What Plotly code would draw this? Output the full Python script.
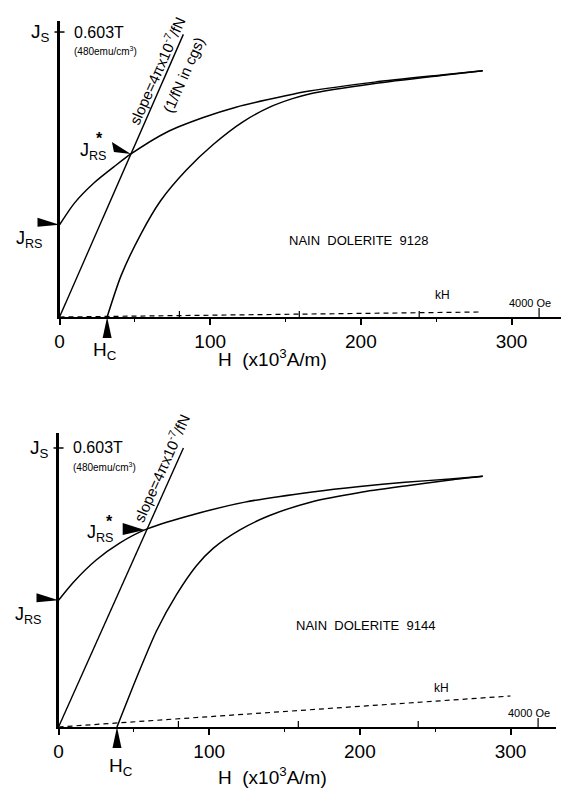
import math
import plotly.graph_objects as go

# ---------------- data (H in 10^3 A/m, J in T) ----------------
JS = 0.603
# top panel: NAIN DOLERITE 9128
top_up_H = [0, 9.9, 23.0, 36.2, 47.4, 71.1, 95.4, 117.1, 150, 165.8, 209.2, 253.3, 280.9]
top_up_J = [0.195, 0.241, 0.284, 0.318, 0.345, 0.391, 0.422, 0.444, 0.468, 0.478, 0.497, 0.512, 0.521]
top_lo_H = [31.6, 40.8, 53.9, 67.1, 84.2, 102, 121.7, 139.5, 154.6, 165.8, 209.2, 253.3, 280.9]
top_lo_J = [0, 0.087, 0.175, 0.246, 0.311, 0.365, 0.413, 0.444, 0.462, 0.472, 0.494, 0.511, 0.521]
top_slope_H = [0, 82.2]
top_slope_J = [0, 0.598]
top_kH_H = [0, 280]
top_kH_J = [0, 0.0106]
top_JRS = 0.195
top_star = (47.4, 0.345)
top_Hc = 31.6

# bottom panel: NAIN DOLERITE 9144
bot_up_H = [0, 9.9, 25, 40.8, 57.2, 84.9, 123.7, 168.4, 200, 230, 260, 281.6]
bot_up_J = [0.274, 0.313, 0.361, 0.398, 0.426, 0.455, 0.486, 0.508, 0.520, 0.529, 0.536, 0.542]
bot_lo_H = [38.8, 52, 65.1, 78.3, 91.4, 102.6, 120.4, 140.1, 168.4, 200, 230, 260, 281.6]
bot_lo_J = [0, 0.108, 0.208, 0.286, 0.348, 0.386, 0.426, 0.457, 0.487, 0.507, 0.521, 0.534, 0.542]
bot_slope_H = [0, 82.9]
bot_slope_J = [0, 0.603]
bot_kH_H = [0, 300]
bot_kH_J = [0, 0.067]
bot_JRS = 0.274
bot_star = (57.2, 0.426)
bot_Hc = 38.8

x_ticks = [0, 100, 200, 300]
oe_marks = [1000, 2000, 3000, 4000]          # Oe
oe_H = [o * 1e3 / (4 * math.pi) / 1e3 for o in oe_marks]  # -> 10^3 A/m

FONT = "Liberation Sans, Arial, Helvetica, sans-serif"
W, H = 568, 794

fig = go.Figure()

def add_panel(xa, ya, up_H, up_J, lo_H, lo_J, sl_H, sl_J, kh_H, kh_J):
    kw = dict(xaxis=xa, yaxis=ya, mode="lines", showlegend=False, hoverinfo="skip")
    fig.add_trace(go.Scatter(x=up_H, y=up_J, line=dict(color="black", width=1.5, shape="spline", smoothing=0.7), **kw))
    fig.add_trace(go.Scatter(x=lo_H, y=lo_J, line=dict(color="black", width=1.5, shape="spline", smoothing=0.7), **kw))
    fig.add_trace(go.Scatter(x=sl_H, y=sl_J, line=dict(color="black", width=1.4), **kw))
    fig.add_trace(go.Scatter(x=kh_H, y=kh_J, line=dict(color="black", width=1.2, dash="5px,4px"), **kw))

add_panel("x", "y", top_up_H, top_up_J, top_lo_H, top_lo_J, top_slope_H, top_slope_J, top_kH_H, top_kH_J)
add_panel("x2", "y2", bot_up_H, bot_up_J, bot_lo_H, bot_lo_J, bot_slope_H, bot_slope_J, bot_kH_H, bot_kH_J)

def xaxis(dom, rng):
    return dict(domain=dom, range=rng, showline=True, linewidth=2, linecolor="black",
                ticks="outside", ticklen=6, tickwidth=1.5, tickcolor="black",
                tickvals=x_ticks, ticktext=[str(v) for v in x_ticks],
                minor=dict(dtick=50, ticks="outside", ticklen=3, tickwidth=1, tickcolor="black"),
                tickfont=dict(family=FONT, size=19, color="black"),
                showgrid=False, zeroline=False, fixedrange=True)

def yaxis(dom, rng, anchor):
    return dict(domain=dom, range=rng, showline=True, linewidth=2.5, linecolor="black",
                showticklabels=False, ticks="", showgrid=False, zeroline=False, anchor=anchor)

fig.update_layout(
    width=W, height=H, margin=dict(l=0, r=0, t=0, b=0),
    paper_bgcolor="white", plot_bgcolor="white",
    xaxis=dict(**xaxis([55 / W, 561 / W], [0, (561 - 55) / 1.52]), anchor="y"),
    yaxis=yaxis([(H - 317) / H, (H - 21) / H], [0, (317 - 21) / 472.6], "x"),
    xaxis2=dict(**xaxis([54 / W, 556 / W], [0, (556 - 54) / 1.52]), anchor="y2"),
    yaxis2=yaxis([(H - 727) / H, (H - 433) / H], [0, (727 - 433) / 462.7], "x2"),
    font=dict(family=FONT, color="black"),
)

shapes = []
ann = []

def tri(xr, yr, xa, ya, path):
    shapes.append(dict(type="path", xref=xr, yref=yr, xsizemode="pixel", ysizemode="pixel",
                       xanchor=xa, yanchor=ya, path=path, fillcolor="black", line=dict(width=0),
                       layer="above"))

def txt(xr, yr, x, y, text, size, xs=0, ys=0, xanchor="center", angle=0):
    ann.append(dict(xref=xr, yref=yr, x=x, y=y, text=text, showarrow=False, xshift=xs, yshift=ys,
                    xanchor=xanchor, yanchor="middle", textangle=angle,
                    font=dict(family=FONT, size=size, color="black")))

def decorate(xr, yr, JRS, star, Hc, name, kh_xy, oe_xy, star_path, star_lab, hc_shift, slope_txt, cgs_txt):
    xd = xr + " domain"
    yd = yr + " domain"
    # Js tick crossing the axis (x domain 0 is H = 0)
    shapes.append(dict(type="line", xref=xd, yref=yr, xsizemode="pixel", xanchor=0,
                       x0=-5, x1=5, y0=JS, y1=JS, line=dict(color="black", width=1.5)))
    # Oe marks above the H axis
    for h, o in zip(oe_H, oe_marks):
        shapes.append(dict(type="line", xref=xr, yref=yd, ysizemode="pixel", yanchor=0,
                           x0=h, x1=h, y0=0, y1=9 if o == 4000 else 6,
                           line=dict(color="black", width=1.2)))
    # arrows (wedges)
    tri(xd, yr, 0, JRS, "M0,0 L-22,7 L-22,-2 Z")
    tri(xr, yr, star[0], star[1], star_path)
    tri(xr, yd, Hc, 0, "M0,0 L-4.5,-21 L4.5,-21 Z")
    # labels
    txt(xr, yr, 0, JS, "J<sub>S</sub>", 19, xs=-8, ys=-1, xanchor="right")
    txt(xr, yr, 0, JS, "0.603T", 16, xs=12, ys=0, xanchor="left")
    txt(xr, yr, 0, JS, "(480emu/cm<sup>3</sup>)", 10, xs=12, ys=-19, xanchor="left")
    txt(xr, yr, 0, JRS, "J<sub>RS</sub>", 18, xs=-15, ys=-15, xanchor="right")
    txt(xr, yr, star[0], star[1], "J<sub>RS</sub>", 18, xs=star_lab[0], ys=star_lab[1], xanchor="right")
    txt(xr, yr, star[0], star[1], "<b>*</b>", 16, xs=star_lab[2], ys=star_lab[3])
    txt(xr, yr, Hc, 0, "H<sub>C</sub>", 19, xs=hc_shift[0], ys=hc_shift[1])
    txt("paper", "paper", name[0], name[1], name[2], 13, xanchor="left")
    txt(xr, yr, kh_xy[0], kh_xy[1], "kH", 12)
    txt(xr, yr, oe_xy[0], oe_xy[1], "4000 Oe", 11)
    txt(xr, yr, slope_txt[0], slope_txt[1], "slope=4πx10<sup>-7</sup>/fN", 15, angle=-66)
    if cgs_txt:
        txt(xr, yr, cgs_txt[0], cgs_txt[1], "(1/fN in cgs)", 15, angle=-66)

decorate("x", "y", top_JRS, top_star, top_Hc,
         (284 / W, (H - 240) / H, "NAIN  DOLERITE  9128"),
         (254, 0.047), (312, 0.030), "M0,0 L-19,12 L-17,2 Z", (-22, 2, -31, 15), (-2, -34),
         (64.0, 0.522), (82.0, 0.512))
decorate("x2", "y2", bot_JRS, bot_star, bot_Hc,
         (292 / W, (H - 625) / H, "NAIN  DOLERITE  9144"),
         (254, 0.084), (312, 0.030), "M0,0 L-22,7 L-22,-5 Z", (-29, -4, -35, 8), (4, -40),
         (68.0, 0.560), None)

# axis titles
ann.append(dict(xref="paper", yref="paper", x=270 / W, y=(H - 358) / H, showarrow=False,
                text="H  (x10<sup>3</sup>A/m)", xanchor="center", yanchor="middle",
                font=dict(family=FONT, size=19, color="black")))
ann.append(dict(xref="paper", yref="paper", x=270 / W, y=(H - 776) / H, showarrow=False,
                text="H  (x10<sup>3</sup>A/m)", xanchor="center", yanchor="middle",
                font=dict(family=FONT, size=19, color="black")))

fig.update_layout(shapes=shapes, annotations=ann)
fig.write_html("out.html")
